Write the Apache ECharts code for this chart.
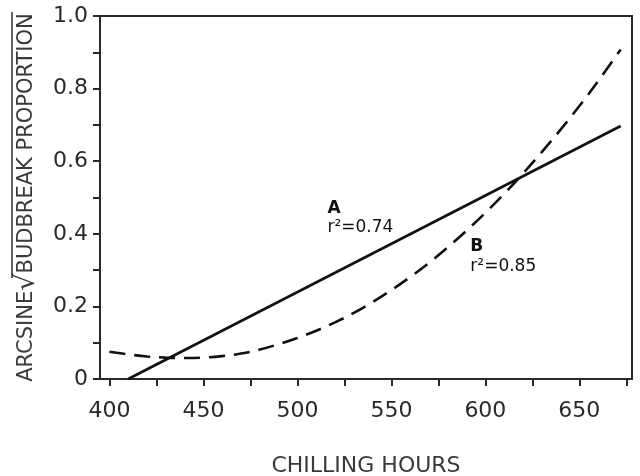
<!DOCTYPE html>
<html>
<head>
<meta charset="utf-8">
<script src="https://cdn.jsdelivr.net/npm/echarts@6/dist/echarts.min.js"></script>
<style>
html,body{margin:0;padding:0;background:#fff;}
#c{width:640px;height:476px;}
</style>
</head>
<body>
<div id="c"></div>
<script>
// ---- data ----
var xTicks = [400, 425, 450, 475, 500, 525, 550, 575, 600, 625, 650, 675];
var xTickLabels = [400, 450, 500, 550, 600, 650];
var yTicks = [0, 0.1, 0.2, 0.3, 0.4, 0.5, 0.6, 0.7, 0.8, 0.9, 1.0];
var yTickLabels = [0, 0.2, 0.4, 0.6, 0.8, 1.0];

// Line A (linear fit)
var hoursA = [410, 672];
var valuesA = [0, 0.697];

// Curve B (quadratic fit, dashed)
var hoursB = [400, 410, 420, 430, 440, 450, 460, 470, 480, 490, 500, 510, 520, 530, 540, 550, 560, 570, 580, 590, 600, 610, 620, 630, 640, 650, 660, 672];
var valuesB = [0.075, 0.068, 0.062, 0.059, 0.058, 0.059, 0.063, 0.070, 0.081, 0.096, 0.113, 0.133, 0.156, 0.182, 0.212, 0.245, 0.281, 0.320, 0.363, 0.409, 0.458, 0.510, 0.566, 0.625, 0.687, 0.752, 0.821, 0.908];

// annotation anchors (hours, value) and texts
var annotA = [516, 0.497];
var annotB = [592, 0.390];
var labelA = 'A';
var r2A = 'r²=0.74';
var labelB = 'B';
var r2B = 'r²=0.85';

var xTitle = 'CHILLING HOURS';
var yTitlePre = 'ARCSINE';
var yTitleRad = 'BUDBREAK PROPORTION';

function zip(a, b) { return a.map(function (v, i) { return [v, b[i]]; }); }

var FONT = 'DejaVu Sans';
var INK = '#111';
var chart = echarts.init(document.getElementById('c'), null, { renderer: 'canvas' });

var annLabel = function (main, r2) {
  return {
    show: true,
    position: [0, 0],
    align: 'left',
    verticalAlign: 'top',
    color: INK,
    opacity: 1,
    formatter: '{m|' + main + '}\n{r|' + r2 + '}',
    rich: {
      m: { fontFamily: FONT, fontWeight: 'bold', fontSize: 17, lineHeight: 19, color: INK },
      r: { fontFamily: FONT, fontSize: 17, lineHeight: 20, color: INK }
    }
  };
};

chart.setOption({
  animation: false,
  backgroundColor: '#fff',
  grid: {
    left: 100, right: 8, top: 16, bottom: 97, show: true, borderColor: '#2a2a2a', borderWidth: 2,
    containLabel: false, outerBoundsMode: 'none'
  },
  xAxis: {
    type: 'value', min: 395, max: 678,
    name: xTitle, nameLocation: 'middle', nameGap: 76,
    nameTextStyle: { fontFamily: FONT, fontSize: 22, color: '#3a3a3a' },
    axisLine: { show: true, onZero: false, lineStyle: { color: '#2a2a2a', width: 2 } },
    axisTick: { show: true, customValues: xTicks, length: 7, lineStyle: { color: '#2a2a2a', width: 2 } },
    axisLabel: { customValues: xTickLabels, margin: 21, fontFamily: FONT, fontSize: 22, color: '#2a2a2a' },
    splitLine: { show: false }
  },
  yAxis: {
    type: 'value', min: 0, max: 1,
    name: '{t|' + yTitlePre + '}{rad|√}{t|' + yTitleRad + '}',
    nameLocation: 'middle', nameGap: 60, nameRotate: 90,
    nameTextStyle: {
      fontFamily: FONT, fontSize: 21, color: '#3a3a3a',
      rich: {
        t: { fontFamily: FONT, fontSize: 21, color: '#3a3a3a' },
        rad: { fontFamily: FONT, fontSize: 27, color: '#3a3a3a' }
      }
    },
    axisLine: { show: true, onZero: false, lineStyle: { color: '#2a2a2a', width: 2 } },
    axisTick: { show: true, customValues: yTicks, length: 7, lineStyle: { color: '#2a2a2a', width: 2 } },
    axisLabel: {
      customValues: yTickLabels, margin: 12, fontFamily: FONT, fontSize: 22, color: '#2a2a2a',
      formatter: function (v) { return v === 0 ? '0' : v.toFixed(1); }
    },
    splitLine: { show: false }
  },
  graphic: [
    // vinculum (overline) of the square-root sign in the y-axis title
    { type: 'line', silent: true, shape: { x1: 12, y1: 12, x2: 12, y2: 278 }, style: { stroke: '#3a3a3a', lineWidth: 1.6 } }
  ],
  series: [
    {
      name: 'A', type: 'line', data: zip(hoursA, valuesA), symbol: 'none',
      lineStyle: { color: INK, width: 2.6, type: 'solid' }, z: 3
    },
    {
      name: 'B', type: 'line', data: zip(hoursB, valuesB), symbol: 'none', smooth: 0.4,
      lineStyle: { color: INK, width: 2.6, type: [16, 9] }, z: 3
    },
    {
      name: 'labels', type: 'scatter', symbolSize: 0, silent: true,
      itemStyle: { opacity: 1 },
      data: [
        { value: annotA, label: annLabel(labelA, r2A) },
        { value: annotB, label: annLabel(labelB, r2B) }
      ]
    }
  ]
});
</script>
</body>
</html>
